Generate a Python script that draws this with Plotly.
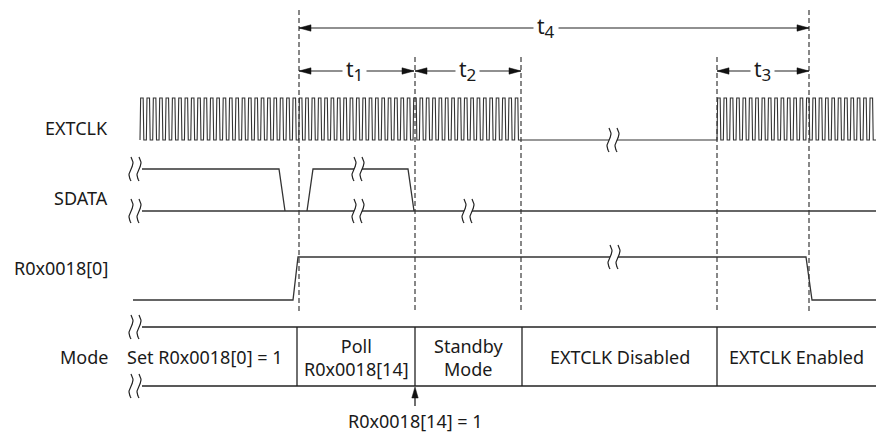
import math
import plotly.graph_objects as go

# ---- diagram data (time axis in drawing units, levels 0 = low, 1 = high) ----
row_labels = ["EXTCLK", "SDATA", "R0x0018[0]", "Mode"]

marker_times = [299, 415, 521, 717, 809]          # dashed event markers
marker_tall = [True, False, False, False, True]   # reach up to the t4 arrow

clk_runs = [[140, 521], [717, 876]]               # EXTCLK toggling
clk_period = 6.35

sdata_hi_t = [142, 279, 285, None, 307, 313, 408, 414]
sdata_hi_v = [1, 1, 0, None, 0, 1, 1, 0]
sdata_lo_t = [142, 876]
sdata_lo_v = [0, 0]

r0_t = [133, 293, 298, 806, 812, 876]
r0_v = [0, 0, 1, 1, 0, 0]

mode_bounds = [113, 297, 415, 522, 717, 876]
mode_text = ["Set R0x0018[0] = 1", "Poll<br>R0x0018[14]", "Standby<br>Mode",
             "EXTCLK Disabled", "EXTCLK Enabled"]

span_subs = ["1", "2", "3", "4"]
span_from = [299, 415, 717, 299]
span_to = [414, 521, 809, 809]
span_label_t = [354, 467, 762, 546]

break_t = [135, 135, 135, 135, 358, 358, 468, 613, 614]
break_row = ["SDATA", "SDATA", "Mode", "Mode", "SDATA", "SDATA", "SDATA", "EXTCLK", "R0x0018[0]"]
break_v = [1, 0, 1, 0, 1, 0, 0, 0, 1]

flag_t = 415
flag_text = "R0x0018[14] = 1"

# ---- layout geometry ----
W, H = 876, 433
ROW_Y = {"EXTCLK": (140, 98), "SDATA": (211, 169), "R0x0018[0]": (300, 257), "Mode": (386, 327)}
LABEL_Y = [128, 198, 268, 357]
LABEL_RIGHT = 110
SPAN_Y = [71, 71, 71, 28]
TALL_TOP, SHORT_TOP, MARK_BOTTOM = 10, 57, 313

INK = "#333333"
FONT = dict(family="Noto Sans, Open Sans, sans-serif", size=18, color="#1a1a1a")


def lvl(row, v):
  lo, hi = ROW_Y[row]
  return None if v is None else lo + (hi - lo) * v


fig = go.Figure()


def add_line(xs, ys, width=1.3, color=INK, dash=None):
  fig.add_trace(go.Scatter(x=xs, y=ys, mode="lines", hoverinfo="skip",
                           line=dict(color=color, width=width, dash=dash)))


def add_tri(pts, color="#111111"):
  xs = [p[0] for p in pts] + [pts[0][0]]
  ys = [p[1] for p in pts] + [pts[0][1]]
  fig.add_trace(go.Scatter(x=xs, y=ys, mode="lines", fill="toself", fillcolor=color,
                           line=dict(color=color, width=0.5), hoverinfo="skip"))


# dashed event markers
for t, tall in zip(marker_times, marker_tall):
  add_line([t, t], [TALL_TOP if tall else SHORT_TOP, MARK_BOTTOM],
           width=1.4, color="#555555", dash="5px,3px")

# EXTCLK
cx, cy = [], []
lo, hi = ROW_Y["EXTCLK"]
for a, b in clk_runs:
  n = int(round((b - a) / clk_period))
  for i in range(n):
    x0 = a + i * clk_period
    cx += [x0, x0 + 0.1 * clk_period, x0 + 0.5 * clk_period, x0 + 0.6 * clk_period]
    cy += [lo, hi, hi, lo]
  cx.append(b)
  cy.append(lo)
add_line(cx, cy, width=1.1)

# SDATA
add_line(sdata_hi_t, [lvl("SDATA", v) for v in sdata_hi_v])
add_line(sdata_lo_t, [lvl("SDATA", v) for v in sdata_lo_v])

# R0x0018[0]
add_line(r0_t, [lvl("R0x0018[0]", v) for v in r0_v])

# Mode bus
m_lo, m_hi = ROW_Y["Mode"]
add_line([142, mode_bounds[-1]], [m_hi, m_hi], color="#222222")
add_line([142, mode_bounds[-1]], [m_lo, m_lo], color="#222222")
for b in mode_bounds[1:-1]:
  add_line([b, b], [m_hi, m_lo], color="#222222")

# break symbols
for t, row, v in zip(break_t, break_row, break_v):
  yc = lvl(row, v)
  ts = [i / 20 for i in range(21)]
  ys = [yc - 12 + 24 * s for s in ts]
  left = [t - 4 + 2 * math.sin(2 * math.pi * s) for s in ts]
  right = [t + 4 + 2 * math.sin(2 * math.pi * s) for s in ts]
  fig.add_trace(go.Scatter(x=left + right[::-1], y=ys + ys[::-1], mode="lines",
                           fill="toself", fillcolor="white", line=dict(width=0),
                           hoverinfo="skip"))
  add_line(left, ys, width=1.2, color="#222222")
  add_line(right, ys, width=1.2, color="#222222")

# timing spans
for sub, a, b, lt, y in zip(span_subs, span_from, span_to, span_label_t, SPAN_Y):
  add_line([a, b], [y, y], width=1.2, color="#222222")
  add_tri([(a, y), (a + 12, y - 3.2), (a + 12, y + 3.2)])
  add_tri([(b, y), (b - 12, y - 3.2), (b - 12, y + 3.2)])
  label = f"t<sub><span style='font-size:17px'>{sub}</span></sub>"
  fig.add_annotation(x=lt, y=y - 1, text=label, showarrow=False, bgcolor="white",
                     borderpad=3, font=dict(FONT, size=21), xref="x", yref="y")

# R0x0018[14] flag
add_line([flag_t, flag_t], [396, 406], width=1.3, color="#222222")
add_tri([(flag_t, 387), (flag_t - 3.2, 398), (flag_t + 3.2, 398)])
fig.add_annotation(x=flag_t, y=421, text=flag_text, showarrow=False, font=FONT)

# row labels
for lab, y in zip(row_labels, LABEL_Y):
  fig.add_annotation(x=LABEL_RIGHT, y=y, text=lab, showarrow=False, xanchor="right",
                     font=FONT)

# mode texts
for i, txt in enumerate(mode_text):
  fig.add_annotation(x=(mode_bounds[i] + mode_bounds[i + 1]) / 2, y=357, text=txt,
                     showarrow=False, font=FONT)

fig.update_layout(
  width=W, height=H, autosize=False,
  margin=dict(l=0, r=0, t=0, b=0),
  paper_bgcolor="white", plot_bgcolor="white",
  showlegend=False,
  xaxis=dict(range=[0, W], visible=False, fixedrange=True),
  yaxis=dict(range=[H, 0], visible=False, fixedrange=True),
)

# drop the browser's default body margin so the drawing sits at the page corner
fig.write_html("out.html", config={"displayModeBar": False},
               post_script="document.body.style.margin = '0';")
